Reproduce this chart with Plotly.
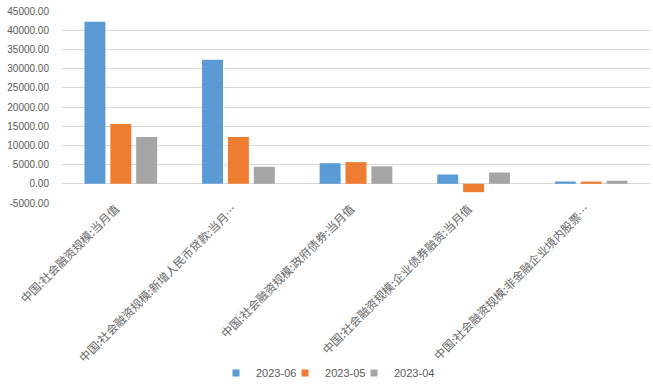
import plotly.graph_objects as go

categories = [
    "中国:社会融资规模:当月值",
    "中国:社会融资规模:新增人民币贷款:当月…",
    "中国:社会融资规模:政府债券:当月值",
    "中国:社会融资规模:企业债券融资:当月值",
    "中国:社会融资规模:非金融企业境内股票…",
]
series_names = ["2023-06", "2023-05", "2023-04"]
values_2023_06 = [42200, 32300, 5370, 2420, 600]
values_2023_05 = [15550, 12200, 5650, -2180, 560]
values_2023_04 = [12200, 4430, 4550, 2940, 800]
colors = ["#5b9bd5", "#ed7d31", "#a5a5a5"]
y_ticks = [-5000, 0, 5000, 10000, 15000, 20000, 25000, 30000, 35000, 40000, 45000]

legend_ids = ["legend", "legend2", "legend3"]
legend_x = [0.2619, 0.3793, 0.4966]

fig = go.Figure()
for name, vals, c, lg in zip(series_names, [values_2023_06, values_2023_05, values_2023_04], colors, legend_ids):
    fig.add_trace(go.Bar(x=categories, y=vals, name=name, showlegend=False,
                         marker=dict(color=c, line=dict(width=0))))
    fig.add_trace(go.Scatter(x=[None], y=[None], mode="markers", name=name, legend=lg,
                             showlegend=True,
                             marker=dict(symbol="square", size=7, color=c)))

font_family = "Noto Sans CJK SC, Noto Sans, sans-serif"
legend_font = dict(family="Liberation Sans, Arial, sans-serif", size=11, color="#595959")
legend_common = dict(orientation="h", xanchor="left", y=-0.885, yanchor="middle",
                     font=legend_font, itemwidth=30, bgcolor="rgba(0,0,0,0)")
fig.update_layout(
    width=653, height=390,
    margin=dict(l=62, r=3, t=11, b=187, autoexpand=False),
    plot_bgcolor="white", paper_bgcolor="white",
    barmode="group", bargap=0.34, bargroupgap=0.19,
    font=dict(family=font_family, size=11, color="#595959"),
    legend=dict(x=legend_x[0], **legend_common),
    legend2=dict(x=legend_x[1], **legend_common),
    legend3=dict(x=legend_x[2], **legend_common),
)
fig.update_xaxes(tickangle=-45, tickfont=dict(size=11.5, color="#666666"), showgrid=False,
                 showline=False, ticks="", automargin=False,
                 ticklabelstandoff=-4, ticklabelshift=-5)
fig.update_yaxes(range=[-5000, 45000], tickvals=y_ticks,
                 ticktext=[f"{v:.2f}" for v in y_ticks],
                 gridcolor="#d9d9d9", gridwidth=1, zeroline=True, zerolinecolor="#d9d9d9",
                 zerolinewidth=1, showline=False, ticks="", ticklabelstandoff=12,
                 automargin=False,
                 tickfont=dict(family="Liberation Sans, Arial, sans-serif", size=10, color="#595959"))

fig.write_html("out.html", config={"displayModeBar": False},
               post_script="document.body.style.margin='0';document.body.style.overflow='hidden';")
